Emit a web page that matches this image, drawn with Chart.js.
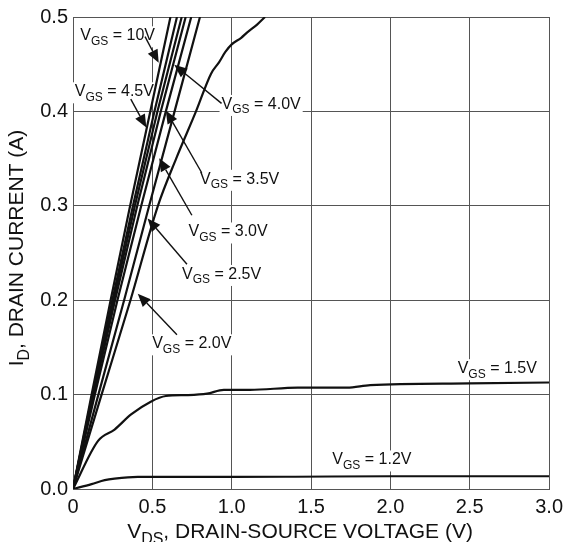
<!DOCTYPE html>
<html>
<head>
<meta charset="utf-8">
<script src="https://cdn.jsdelivr.net/npm/chart.js@4/dist/chart.umd.min.js"></script>
<style>
  html, body { margin: 0; padding: 0; background: #fff; }
  #wrap { width: 569px; height: 542px; }
</style>
</head>
<body>
<div id="wrap"><canvas id="c" width="569" height="542"></canvas></div>
<script>
// Output characteristics: drain current vs drain-source voltage for several gate voltages.

// Current levels (A) at which the steep linear-region curves are sampled
const steepCurrent = [0, 0.1, 0.2, 0.3, 0.4, 0.5];
// Drain-source voltage (V) of each steep curve at those current levels
const vds10V  = [0, 0.117, 0.237, 0.360, 0.487, 0.614];
const vds45V  = [0, 0.122, 0.248, 0.378, 0.513, 0.655];
const vds40V  = [0, 0.126, 0.256, 0.390, 0.532, 0.685];
const vds35V  = [0, 0.130, 0.265, 0.405, 0.553, 0.710];
const vds30V  = [0, 0.138, 0.280, 0.430, 0.585, 0.745];
const vds25V  = [0, 0.160, 0.322, 0.480, 0.640, 0.800];

// VGS = 2.0 V curve
const vds20V = [0, 0.180, 0.362, 0.535, 0.650, 0.775, 0.870, 0.920, 0.960, 1.000, 1.060, 1.100, 1.160, 1.210];
const id20V  = [0, 0.100, 0.200, 0.300, 0.350, 0.400, 0.440, 0.452, 0.463, 0.471, 0.478, 0.484, 0.492, 0.500];

// VGS = 1.5 V curve
const vds15V = [0, 0.158, 0.262, 0.366, 0.490, 0.585, 0.720, 0.845, 0.950, 1.115, 1.416, 1.727, 1.873, 2.497, 3.000];
const id15V  = [0, 0.051, 0.063, 0.079, 0.0925, 0.0985, 0.0995, 0.101, 0.105, 0.105, 0.1074, 0.1074, 0.110, 0.1118, 0.1128];

// VGS = 1.2 V curve
const vds12V = [0, 0.117, 0.200, 0.262, 0.408, 1.000, 1.400, 2.000, 3.000];
const id12V  = [0, 0.0052, 0.0094, 0.011, 0.0128, 0.0128, 0.0130, 0.0135, 0.0135];

// Axis ticks
const xTicks = [0, 0.5, 1.0, 1.5, 2.0, 2.5, 3.0];
const yTicks = [0, 0.1, 0.2, 0.3, 0.4, 0.5];

// Curve labels: gate voltage text, label anchor (V, A) and leader arrow (from -> tip) in data units
const curveLabels = [
  { vgs: '10V',  at: [0.046, 0.4753], from: [0.454, 0.4792], tip: [0.540, 0.4515] },
  { vgs: '4.5V', at: [0.011, 0.4160], from: [0.364, 0.4130], tip: [0.462, 0.3830] },
  { vgs: '4.0V', at: [0.936, 0.4026], from: [0.936, 0.4085], tip: [0.638, 0.4494] },
  { vgs: '3.5V', at: [0.801, 0.3233], from: [0.811, 0.3350], tip: [0.585, 0.4010] },
  { vgs: '3.0V', at: [0.728, 0.2675], from: [0.749, 0.2900], tip: [0.543, 0.3503] },
  { vgs: '2.5V', at: [0.687, 0.2225], from: [0.718, 0.2380], tip: [0.470, 0.2866] },
  { vgs: '2.0V', at: [0.499, 0.1490], from: [0.655, 0.1635], tip: [0.408, 0.2069] },
  { vgs: '1.5V', at: [2.424, 0.1227], from: null, tip: null },
  { vgs: '1.2V', at: [1.634, 0.0260], from: null, tip: null }
];

const FONT = '"Liberation Sans", Arial, Helvetica, sans-serif';
const INK = '#111';

function pairs(xs, ys) { return xs.map((x, i) => ({ x: x, y: ys[i] })); }

function curve(xs, ys, smooth) {
  return {
    data: pairs(xs, ys),
    showLine: true,
    borderColor: INK,
    borderWidth: 2.2,
    pointRadius: 0,
    fill: false,
    cubicInterpolationMode: smooth ? 'monotone' : 'default',
    tension: 0
  };
}

// Draws text made of normal and subscript runs; returns total width
function richText(ctx, x, y, runs, size, measureOnly) {
  let cx = x;
  runs.forEach(r => {
    const s = r.sub ? Math.round(size * 0.74) : size;
    ctx.font = s + 'px ' + FONT;
    if (!measureOnly) ctx.fillText(r.t, cx, r.sub ? y + size * 0.28 : y);
    cx += ctx.measureText(r.t).width;
  });
  return cx - x;
}

function labelRuns(vgs) {
  return [{ t: 'V' }, { t: 'GS', sub: true }, { t: ' = ' + vgs }];
}

const LABEL_SIZE = 16;

const annotate = {
  id: 'annotate',
  beforeDatasetsDraw(chart) {
    // white boxes under the labels, interrupting the grid
    const { ctx, scales: { x, y } } = chart;
    ctx.save();
    ctx.textBaseline = 'alphabetic';
    curveLabels.forEach(l => {
      const px = x.getPixelForValue(l.at[0]);
      const py = y.getPixelForValue(l.at[1]);
      const w = richText(ctx, px, py, labelRuns(l.vgs), LABEL_SIZE, true);
      ctx.fillStyle = '#fff';
      ctx.fillRect(px - 2, py - 14, w + 4, 21);
    });
    ctx.restore();
  },
  afterDatasetsDraw(chart) {
    const { ctx, scales: { x, y } } = chart;
    ctx.save();
    ctx.fillStyle = INK;
    ctx.strokeStyle = INK;
    ctx.textBaseline = 'alphabetic';
    curveLabels.forEach(l => {
      const px = x.getPixelForValue(l.at[0]);
      const py = y.getPixelForValue(l.at[1]);
      richText(ctx, px, py, labelRuns(l.vgs), LABEL_SIZE, false);
      if (l.from) {
        const x0 = x.getPixelForValue(l.from[0]), y0 = y.getPixelForValue(l.from[1]);
        const x1 = x.getPixelForValue(l.tip[0]),  y1 = y.getPixelForValue(l.tip[1]);
        const a = Math.atan2(y1 - y0, x1 - x0);
        const len = 13, half = 5.5;
        const bx = x1 - len * Math.cos(a), by = y1 - len * Math.sin(a);
        ctx.lineWidth = 1.4;
        ctx.beginPath();
        ctx.moveTo(x0, y0);
        ctx.lineTo(bx, by);
        ctx.stroke();
        ctx.beginPath();
        ctx.moveTo(x1, y1);
        ctx.lineTo(bx + half * Math.sin(a), by - half * Math.cos(a));
        ctx.lineTo(bx - half * Math.sin(a), by + half * Math.cos(a));
        ctx.closePath();
        ctx.fill();
      }
    });

    // axis titles with subscripts
    const area = chart.chartArea;
    const TS = 21;
    ctx.fillStyle = '#111';
    const xRuns = [{ t: 'V' }, { t: 'DS', sub: true }, { t: ', DRAIN-SOURCE VOLTAGE (V)' }];
    const xw = richText(ctx, 0, 0, xRuns, TS, true);
    richText(ctx, (area.left + area.right) / 2 - 11 - xw / 2, 538, xRuns, TS, false);

    const yRuns = [{ t: 'I' }, { t: 'D', sub: true }, { t: ', DRAIN CURRENT (A)' }];
    const yw = richText(ctx, 0, 0, yRuns, TS, true);
    ctx.translate(23, (area.top + area.bottom) / 2 - 5);
    ctx.rotate(-Math.PI / 2);
    richText(ctx, -yw / 2, 0, yRuns, TS, false);
    ctx.restore();
  }
};

const datasets = [
  curve(vds10V, steepCurrent, false),
  curve(vds45V, steepCurrent, false),
  curve(vds40V, steepCurrent, false),
  curve(vds35V, steepCurrent, false),
  curve(vds30V, steepCurrent, false),
  curve(vds25V, steepCurrent, false),
  curve(vds20V, id20V, true),
  curve(vds15V, id15V, true),
  curve(vds12V, id12V, true)
];

new Chart(document.getElementById('c'), {
  type: 'scatter',
  data: { datasets: datasets },
  options: {
    responsive: false,
    animation: false,
    layout: { padding: { left: 0, right: 15, top: 8, bottom: 0 } },
    plugins: { legend: { display: false }, tooltip: { enabled: false } },
    scales: {
      x: {
        type: 'linear',
        min: 0, max: 3,
        afterBuildTicks(s) { s.ticks = xTicks.map(v => ({ value: v })); },
        afterFit(s) { s.height = 53; },
        ticks: {
          color: '#111',
          font: { size: 20, family: FONT },
          padding: 6,
          maxRotation: 0,
          callback: v => (v === 0 ? '0' : v.toFixed(1))
        },
        grid: { color: '#555', lineWidth: 1, drawTicks: false },
        border: { color: '#555', width: 1 }
      },
      y: {
        type: 'linear',
        min: 0, max: 0.5,
        afterBuildTicks(s) { s.ticks = yTicks.map(v => ({ value: v })); },
        afterFit(s) { s.width = 73; },
        ticks: {
          color: '#111',
          font: { size: 20, family: FONT },
          padding: 5,
          callback: v => v.toFixed(1)
        },
        grid: { color: '#555', lineWidth: 1, drawTicks: false },
        border: { color: '#555', width: 1 }
      }
    }
  },
  plugins: [annotate]
});
</script>
</body>
</html>
